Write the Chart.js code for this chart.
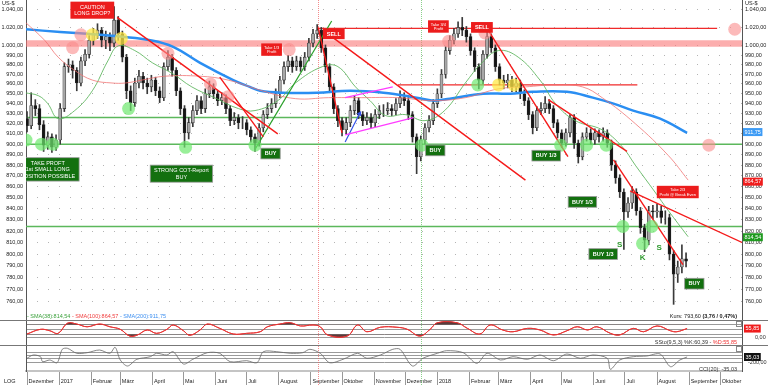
<!DOCTYPE html>
<html>
<head>
<meta charset="utf-8">
<title>Platin in US-$</title>
<script src="https://cdn.jsdelivr.net/npm/chart.js"></script>
<style>
    body { margin: 0; background: #fff; }
    .panel { position: absolute; left: 0; width: 768px; }
    #pricePanel { top: 0; height: 321px; }
    #stochPanel { top: 321px; height: 25px; }
    #cciPanel { top: 346px; height: 39px; }
</style>
</head>
<body>
<div class="panel" id="pricePanel"><canvas id="priceChart"></canvas></div>
<div class="panel" id="stochPanel"><canvas id="stochChart"></canvas></div>
<div class="panel" id="cciPanel"><canvas id="cciChart"></canvas></div>

<script>
// all x values are days counted from 1 Dec 2016, one bar every 4 days
const barStep = 4;
const firstOpen = 925;
const closes = [
    918, 938, 935, 919, 899, 907, 897, 904, 935, 978,
    980, 974, 961, 984, 991, 1006, 1013, 1017, 1006, 1010,
    1003, 1028, 1013, 988, 953, 941, 961, 968, 961, 957,
    964, 953, 946, 978, 988, 974, 953, 935, 911, 921,
    933, 943, 935, 950, 957, 950, 943, 946, 935, 923,
    926, 921, 921, 914, 907, 901, 916, 929, 935, 940,
    950, 964, 978, 984, 978, 984, 978, 988, 1003, 1013,
    1017, 998, 978, 957, 935, 923, 914, 921, 933, 943,
    929, 923, 926, 921, 929, 933, 933, 935, 933, 940,
    946, 943, 929, 907, 888, 904, 916, 923, 940, 950,
    970, 995, 1006, 1013, 1020, 1017, 1010, 995, 978, 964,
    991, 1010, 998, 978, 964, 961, 964, 957, 961, 950,
    943, 929, 916, 933, 935, 940, 935, 921, 911, 901,
    911, 926, 901, 888, 907, 911, 904, 911, 907, 911,
    901, 880, 868, 855, 837, 845, 855, 838, 823, 812,
    838, 837, 838, 832, 832, 800, 783, 789, 796, 794
];
const highs = [
    932, 951, 944, 939, 923, 912, 910, 909, 940, 982,
    986, 984, 977, 988, 996, 1011, 1019, 1024, 1020, 1016,
    1014, 1043, 1032, 1016, 991, 958, 966, 974, 972, 966,
    969, 967, 957, 982, 995, 991, 977, 956, 938, 926,
    938, 948, 947, 955, 963, 960, 953, 951, 949, 938,
    931, 929, 927, 924, 917, 910, 920, 933, 940, 945,
    955, 968, 983, 990, 988, 989, 988, 993, 1008, 1018,
    1023, 1020, 1001, 981, 960, 938, 926, 926, 938, 948,
    946, 932, 931, 930, 934, 938, 939, 941, 939, 945,
    953, 951, 946, 932, 910, 908, 920, 928, 944, 955,
    975, 999, 1011, 1019, 1026, 1031, 1021, 1013, 998, 981,
    995, 1015, 1013, 1001, 981, 969, 970, 968, 966, 964,
    954, 946, 932, 937, 941, 947, 944, 938, 924, 914,
    915, 929, 929, 904, 911, 916, 915, 915, 914, 916,
    914, 904, 884, 871, 858, 850, 860, 858, 841, 826,
    842, 843, 844, 842, 838, 835, 803, 794, 808, 801
];
const lows = [
    912, 915, 928, 914, 893, 895, 892, 894, 900, 932,
    972, 966, 953, 958, 979, 987, 1001, 1008, 999, 997,
    995, 999, 1006, 983, 945, 933, 937, 956, 955, 950,
    952, 948, 941, 943, 974, 968, 948, 929, 897, 905,
    917, 929, 930, 931, 946, 945, 938, 939, 930, 918,
    919, 915, 915, 909, 902, 893, 898, 912, 925, 931,
    936, 946, 960, 973, 972, 974, 973, 974, 984, 999,
    1008, 993, 972, 951, 930, 917, 908, 910, 917, 929,
    925, 918, 919, 916, 917, 925, 927, 929, 928, 929,
    936, 938, 924, 902, 872, 884, 900, 912, 919, 936,
    946, 966, 991, 1002, 1009, 1011, 1004, 990, 973, 955,
    960, 987, 993, 973, 959, 955, 956, 952, 952, 945,
    938, 924, 910, 913, 929, 931, 930, 916, 906, 897,
    898, 907, 896, 882, 885, 903, 900, 900, 902, 903,
    897, 875, 863, 850, 804, 832, 840, 834, 818, 802,
    808, 831, 832, 827, 826, 795, 758, 776, 784, 789
];

const sma38Days = [-2, 11, 20, 30, 46, 63, 78, 88, 104, 121, 140, 159, 181, 204, 220, 242, 259, 285, 300, 317, 331, 346, 365, 384, 403, 423, 439, 455, 474, 495, 510, 529, 555, 574, 587, 606, 619, 638];
const sma38 = [951, 948, 940, 925, 933, 953, 984, 1000, 995, 982, 971, 957, 946, 935, 933, 943, 961, 978, 978, 957, 943, 928, 929, 923, 933, 961, 982, 995, 988, 964, 940, 923, 914, 898, 880, 855, 838, 815];
const sma100Days = [-2, 17, 30, 46, 63, 82, 95, 111, 133, 167, 194, 227, 259, 291, 323, 358, 391, 423, 455, 481, 510, 536, 555, 587, 619, 638];
const sma100 = [1026, 1006, 988, 974, 964, 961, 961, 964, 968, 968, 964, 953, 945, 946, 946, 946, 943, 946, 955, 957, 959, 957, 946, 920, 889, 866];
const sma200Days = [-2, 32, 70, 90, 119, 141, 167, 199, 215, 225, 247, 280, 312, 344, 376, 392, 408, 440, 466, 488, 521, 546, 566, 585, 611, 637];
const sma200 = [1018, 1015, 1012, 1010, 1006, 999, 982, 964, 957, 953, 951, 951, 953, 951, 946, 943, 945, 950, 950, 952, 952, 946, 940, 933, 925, 911];

const stochDays = [0, 13, 22, 30, 39, 48, 58, 70, 80, 90, 99, 106, 116, 125, 135, 141, 151, 157, 167, 174, 186, 199, 212, 225, 232, 244, 254, 264, 276, 283, 290, 309, 319, 328, 341, 357, 367, 379, 389, 396, 415, 425, 437, 447, 459, 469, 483, 495, 508, 521, 531, 541, 550, 563, 572, 585, 595, 608, 621, 627, 637];
const stochD = [22, 51, 42, 26, 89, 84, 67, 84, 67, 51, 9, 14, 47, 26, 51, 78, 42, 14, 47, 84, 57, 22, 26, 36, 67, 84, 92, 72, 78, 67, 16, 9, 78, 36, 64, 64, 51, 9, 51, 92, 92, 57, 22, 78, 47, 36, 57, 47, 16, 42, 67, 47, 67, 26, 16, 57, 36, 72, 42, 36, 56];
const cciDays = [0, 6, 13, 15, 22, 29, 34, 39, 48, 58, 70, 80, 85, 90, 97, 106, 119, 125, 135, 141, 151, 160, 174, 186, 196, 212, 222, 228, 241, 254, 266, 273, 283, 292, 305, 319, 328, 341, 353, 360, 372, 382, 396, 405, 421, 434, 444, 457, 469, 483, 495, 508, 521, 534, 546, 560, 563, 572, 585, 598, 611, 621, 630, 637];
const cci = [-78, 31, -25, -190, -134, -223, 219, 252, 87, 107, 196, 87, 285, -134, -332, -111, -25, 87, 31, 140, -266, -111, 107, 87, -190, -157, -223, 140, 140, 87, 107, 219, 87, -223, -111, 87, -78, 31, 219, 219, -332, -78, 87, 173, 107, -243, 87, -134, -25, -111, 31, -157, 64, -78, 31, -78, -441, -134, -25, -2, 64, -355, -134, -35];

const monthDays = [0, 31, 62, 90, 121, 151, 182, 212, 243, 274, 304, 335, 365, 396, 427, 455, 486, 516, 547, 577, 608, 639, 669];
const monthLabels = ['Dezember', '2017', 'Februar', 'März', 'April', 'Mai', 'Juni', 'Juli', 'August', 'September', 'Oktober', 'November', 'Dezember', '2018', 'Februar', 'März', 'April', 'Mai', 'Juni', 'Juli', 'August', 'September', 'Oktober'];
const priceTicks = [760, 770, 780, 790, 800, 810, 820, 830, 840, 850, 860, 870, 880, 890, 900, 910, 920, 930, 940, 950, 960, 970, 980, 990, 1000, 1020, 1040];

// drawing tools: [fromDay, value, toDay, value]
const redTrends = [[87, 1031, 242, 910], [186, 967, 228, 907], [281, 1020, 304, 911], [294, 1010, 481, 866], [445, 1017, 522, 888], [503, 944, 579, 893], [566, 885, 633, 791], [582, 856, 690, 810]];
const greenTrends = [[220, 895, 294, 1027]];
const magentaTrends = [[307, 946, 353, 957], [307, 909, 373, 926]];
const blueArrow = [307, 902, 321, 930];
// horizontal levels: [fromDay, toDay, value]
const resistanceBand = [-1, 690, 1002.5];
const redLevels = [[281, 666, 1019], [358, 589, 959]];
const greenLevels = [[-1, 341, 926], [-1, 690, 900], [-1, 690, 824]];
const eventDays = [281, 380];

const greenDots = [[-1, 904], [14, 900], [25, 900], [98, 935], [153, 897], [220, 899], [381, 899], [435, 959], [515, 899], [540, 899], [559, 899], [575, 824], [594, 809], [603, 824]];
const yellowDots = [[63, 1012], [91, 1008], [455, 959], [470, 959]];
const pinkDots = [[44, 998], [52, 1012], [136, 992], [177, 960], [194, 947], [253, 996], [407, 1005], [442, 1014], [683, 1018], [658, 899]];

const redNotes = [[63, 1039, 'CAUTION\nLONG DROP?'], [236, 996, 'Take 1/3\nProfit'], [296, 1013, 'SELL'], [397, 1021, 'Take 3/4\nProfit'], [439, 1020, 'SELL'], [628, 855, 'Take 2/3\nProfit @ Break Even']];
const greenNotes = [[20, 876, 'TAKE PROFT\n1st SMALL LONG\nPOSITION POSSIBLE'], [149, 872, 'STRONG COT-Report\nBUY'], [235, 891, 'BUY'], [394, 894, 'BUY'], [501, 889, 'BUY 1/3'], [536, 846, 'BUY 1/3'], [556, 800, 'BUY 1/3'], [644, 775, 'BUY']];
const patternMarks = [[572, 808, 'S'], [594, 797, 'K'], [610, 805, 'S']];

const lastValues = { sma38: 814.54, sma100: 864.57, sma200: 911.75, kurs: 793.60, change: 3.76, pct: 0.47, stochK: 60.39, stochD: 55.85, cci: -35.03 };

// ---- helpers ----
const FONT = '"Liberation Sans", Arial, sans-serif';
const dayMin = -1, dayMax = 690;
const priceMin = 744.6, priceMax = 1050.4;

function deNum(v) {
    const parts = Math.abs(v).toFixed(2).split('.');
    return (v < 0 ? '-' : '') + parts[0].replace(/\B(?=(\d{3})+(?!\d))/g, '.') + ',' + parts[1];
}

function sideWidth(s) { s.width = 26; s.paddingTop = 0; s.paddingBottom = 0; }

function pts(days, vals) { return days.map((d, i) => ({ x: d, y: vals[i] })); }

function segment(seg, color, width, order) {
    return { type: 'line', data: [{ x: seg[0], y: seg[1] }, { x: seg[2], y: seg[3] }], borderColor: color, borderWidth: width, pointRadius: 0, order: order };
}

function level(lv, color, width, order) {
    return { type: 'line', data: [{ x: lv[0], y: lv[2] }, { x: lv[1], y: lv[2] }], borderColor: color, borderWidth: width, pointRadius: 0, order: order };
}

function dots(list, color, r) {
    return { type: 'scatter', data: list.map(p => ({ x: p[0], y: p[1] })), pointRadius: r, pointBackgroundColor: color, pointBorderWidth: 0, order: 5 };
}

function drawNote(ctx, x, y, text, bg, size, bold, border) {
    const lines = text.split('\n');
    ctx.font = (bold ? 'bold ' : '') + size + 'px ' + FONT;
    const lh = size * 1.15;
    const w = Math.max(...lines.map(l => ctx.measureText(l).width)) + size * 1.4;
    const h = lines.length * lh + size * 0.8;
    ctx.fillStyle = bg;
    ctx.fillRect(x - w / 2, y - h / 2, w, h);
    if (border) {
        ctx.strokeStyle = border;
        ctx.lineWidth = 0.8;
        ctx.strokeRect(x - w / 2, y - h / 2, w, h);
    }
    ctx.fillStyle = '#fff';
    ctx.textAlign = 'center';
    ctx.textBaseline = 'middle';
    lines.forEach((l, i) => ctx.fillText(l, x, y - (lines.length - 1) * lh / 2 + i * lh + 0.3));
}

function valueBox(ctx, x, y, text, bg, fg) {
    ctx.font = '5.5px ' + FONT;
    const w = ctx.measureText(text).width + 3;
    ctx.fillStyle = bg;
    ctx.fillRect(x, y - 4, w, 8);
    ctx.fillStyle = fg;
    ctx.textAlign = 'left';
    ctx.textBaseline = 'middle';
    ctx.fillText(text, x + 1.5, y + 0.3);
}

const eventLines = {
    id: 'eventLines',
    beforeDatasetsDraw(chart) {
        const { ctx, chartArea: ca, scales: { x } } = chart;
        ctx.save();
        ctx.lineWidth = 1;
        ctx.setLineDash([1, 1]);
        eventDays.forEach((d, i) => {
            const px = Math.round(x.getPixelForValue(d)) + 0.5;
            ctx.strokeStyle = i === 0 ? 'rgba(240,90,90,0.7)' : 'rgba(90,190,90,0.7)';
            ctx.beginPath();
            ctx.moveTo(px, ca.top);
            ctx.lineTo(px, chart.height);
            ctx.stroke();
        });
        ctx.restore();
    }
};

const baseOptions = {
    responsive: true,
    maintainAspectRatio: false,
    animation: false,
    layout: { padding: 0, autoPadding: false },
    plugins: { legend: { display: false }, tooltip: { enabled: false } }
};

// ---- price panel ----
const opens = closes.map((c, i) => i ? closes[i - 1] : firstOpen);
const wicks = closes.map((c, i) => ({ x: i * barStep, y: [lows[i], highs[i]] }));
const bodies = closes.map((c, i) => ({ x: i * barStep, y: [opens[i], c] }));

const priceSets = [
    level(resistanceBand, 'rgba(250,120,120,0.6)', 6.5, 14),
    ...greenLevels.map(l => level(l, '#5cb85c', 1.5, 13)),
    ...redLevels.map(l => level(l, '#f02a2a', 1.2, 13)),
    { type: 'bar', data: wicks, backgroundColor: '#3a3a3a', barThickness: 1, grouped: false, order: 11 },
    { type: 'bar', data: bodies, backgroundColor: bodies.map(b => b.y[1] >= b.y[0] ? '#a8a8a8' : '#151515'), borderColor: '#2a2a2a', borderWidth: 0.6, borderSkipped: false, barThickness: 3, grouped: false, order: 10 },
    { type: 'line', data: pts(sma100Days, sma100), borderColor: 'rgba(240,110,110,0.75)', borderWidth: 1, pointRadius: 0, tension: 0.4, order: 8 },
    { type: 'line', data: pts(sma38Days, sma38), borderColor: 'rgba(90,180,90,0.85)', borderWidth: 1, pointRadius: 0, tension: 0.4, order: 8 },
    { type: 'line', data: pts(sma200Days, sma200), borderColor: '#2a8ef2', borderWidth: 2.5, pointRadius: 0, tension: 0.4, order: 8 },
    ...redTrends.map(t => segment(t, '#f51a1a', 1.4, 6)),
    ...greenTrends.map(t => segment(t, '#2aa02a', 1.2, 6)),
    ...magentaTrends.map(t => segment(t, '#ff3cff', 1.4, 6)),
    { type: 'line', data: [{ x: blueArrow[0], y: blueArrow[1] }, { x: blueArrow[2], y: blueArrow[3] }], borderColor: '#3552e8', borderWidth: 1.2, pointRadius: [0, 3], pointStyle: 'triangle', rotation: 29, pointBackgroundColor: '#3552e8', pointBorderWidth: 0, order: 6 },
    dots(greenDots, 'rgba(110,232,110,0.7)', 6.5),
    dots(yellowDots, 'rgba(255,232,70,0.75)', 6.5),
    dots(pinkDots, 'rgba(250,140,140,0.6)', 6.5)
];

const priceDecor = {
    id: 'priceDecor',
    afterDatasetsDraw(chart) {
        const { ctx, chartArea: ca, scales: { x, y } } = chart;
        ctx.save();
        ctx.beginPath();
        ctx.rect(ca.left, ca.top, ca.width, ca.height);
        ctx.clip();
        redNotes.forEach(([d, v, t]) => {
            const small = t.startsWith('Take');
            drawNote(ctx, x.getPixelForValue(d), y.getPixelForValue(v), t, '#ec1c1c', small ? 4 : 5.5, t === 'SELL', null);
        });
        greenNotes.forEach(([d, v, t]) => {
            drawNote(ctx, x.getPixelForValue(d), y.getPixelForValue(v), t, '#13700f', 5.5, t.startsWith('BUY'), '#9a9a9a');
        });
        ctx.font = 'bold 8px ' + FONT;
        ctx.fillStyle = '#2f9a2f';
        ctx.textAlign = 'center';
        ctx.textBaseline = 'middle';
        patternMarks.forEach(([d, v, t]) => ctx.fillText(t, x.getPixelForValue(d), y.getPixelForValue(v)));

        // legend line at the bottom of the panel
        ctx.font = '5.5px ' + FONT;
        ctx.textAlign = 'left';
        let tx = ca.left + 1;
        [['- SMA(38):' + deNum(lastValues.sma38), '#3aa03a'], [' - SMA(100):' + deNum(lastValues.sma100), '#f03c3c'], [' - SMA(200):' + deNum(lastValues.sma200), '#3d8ff0']].forEach(([t, c]) => {
            ctx.fillStyle = c;
            ctx.fillText(t, tx, ca.bottom - 5);
            tx += ctx.measureText(t).width;
        });
        const bold = '(' + deNum(lastValues.change) + ' / ' + deNum(lastValues.pct) + '%)';
        ctx.font = 'bold 5.5px ' + FONT;
        const bw = ctx.measureText(bold).width;
        ctx.textAlign = 'right';
        ctx.fillStyle = '#222';
        ctx.fillText(bold, ca.right - 5, ca.bottom - 5);
        ctx.font = '5.5px ' + FONT;
        ctx.fillText('Kurs: ' + deNum(lastValues.kurs) + ' ', ca.right - 5 - bw, ca.bottom - 5);
        ctx.restore();

        ctx.save();
        valueBox(ctx, ca.right + 1, y.getPixelForValue(lastValues.sma200), deNum(lastValues.sma200), '#3d9bf5', '#fff');
        valueBox(ctx, ca.right + 1, y.getPixelForValue(lastValues.sma100), deNum(lastValues.sma100), '#f01c1c', '#fff');
        valueBox(ctx, ca.right + 1, y.getPixelForValue(lastValues.sma38), deNum(lastValues.sma38), '#1f9a1f', '#fff');
        ctx.font = '5.5px ' + FONT;
        ctx.fillStyle = '#222';
        ctx.textBaseline = 'top';
        ctx.textAlign = 'left';
        ctx.fillText('US-$', 2, 1);
        ctx.fillText('US-$', ca.right + 3, 1);
        ctx.strokeStyle = '#777';
        ctx.lineWidth = 1;
        ctx.beginPath();
        ctx.moveTo(0, chart.height - 0.5);
        ctx.lineTo(chart.width, chart.height - 0.5);
        ctx.stroke();
        ctx.restore();
    }
};

const priceAxis = {
    type: 'logarithmic', min: priceMin, max: priceMax,
    afterBuildTicks: s => { s.ticks = priceTicks.map(v => ({ value: v })); },
    afterFit: sideWidth,
    ticks: { autoSkip: false, padding: 3, color: '#222', font: { family: FONT, size: 5.5 }, callback: v => deNum(v) }
};

new Chart(document.getElementById('priceChart'), {
    type: 'line',
    data: { datasets: priceSets },
    options: Object.assign({}, baseOptions, {
        scales: {
            x: { type: 'linear', min: dayMin, max: dayMax, display: false, offset: false },
            y: Object.assign({}, priceAxis, { position: 'right', grid: { color: '#b4b4b4', drawTicks: false }, border: { color: '#555', dash: [1, 10] } }),
            yL: Object.assign({}, priceAxis, { position: 'left', grid: { drawOnChartArea: false, drawTicks: false }, border: { color: '#555' } })
        }
    }),
    plugins: [eventLines, priceDecor]
});

// ---- indicator panels ----
function sideAxis(pos, min, max, lines) {
    return {
        position: pos, min: min, max: max,
        afterBuildTicks: s => { s.ticks = lines.map(v => ({ value: v })); },
        afterFit: sideWidth,
        ticks: { display: false },
        grid: { display: pos === 'left', color: '#9a9a9a', drawTicks: false },
        border: { color: '#555' }
    };
}

const stochDecor = {
    id: 'stochDecor',
    afterDraw(chart) {
        const { ctx, chartArea: ca, scales: { y } } = chart;
        ctx.save();
        valueBox(ctx, ca.right + 2, y.getPixelForValue(lastValues.stochD), deNum(lastValues.stochD), '#f01c1c', '#fff');
        ctx.font = '5.5px ' + FONT;
        ctx.fillStyle = '#333';
        ctx.textAlign = 'left';
        ctx.textBaseline = 'middle';
        ctx.fillText('0,00', ca.right + 13, y.getPixelForValue(0));
        const dPart = '%D:' + deNum(lastValues.stochD);
        const dw = ctx.measureText(dPart).width;
        ctx.textAlign = 'right';
        ctx.fillStyle = '#f03030';
        ctx.fillText(dPart, ca.right - 5, ca.bottom - 3.5);
        ctx.fillStyle = '#333';
        ctx.fillText('SSto(9,5,3) %K:' + deNum(lastValues.stochK) + ' - ', ca.right - 5 - dw, ca.bottom - 3.5);
        ctx.strokeStyle = '#777';
        ctx.beginPath();
        ctx.moveTo(0, chart.height - 0.5);
        ctx.lineTo(chart.width, chart.height - 0.5);
        ctx.stroke();
        ctx.strokeStyle = '#888';
        ctx.strokeRect(ca.right - 5.5, ca.top + 0.5, 5, 5);
        ctx.restore();
    }
};

new Chart(document.getElementById('stochChart'), {
    type: 'line',
    data: {
        datasets: [
            { data: pts(stochDays, stochD), borderColor: '#e83535', borderWidth: 1, pointRadius: 0, tension: 0.4, fill: { target: { value: 80 }, above: 'rgba(60,25,25,0.85)', below: 'rgba(0,0,0,0)' } },
            { data: pts(stochDays, stochD), borderColor: '#e83535', borderWidth: 1, pointRadius: 0, tension: 0.4, fill: { target: { value: 20 }, above: 'rgba(0,0,0,0)', below: 'rgba(60,25,25,0.85)' } }
        ]
    },
    options: Object.assign({}, baseOptions, {
        scales: {
            x: { type: 'linear', min: dayMin, max: dayMax, display: false },
            y: sideAxis('left', -53, 103, [0, 20, 50, 80]),
            yR: sideAxis('right', -53, 103, [])
        }
    }),
    plugins: [eventLines, stochDecor]
});

const cciDecor = {
    id: 'cciDecor',
    afterDraw(chart) {
        const { ctx, chartArea: ca, scales: { y } } = chart;
        ctx.save();
        valueBox(ctx, ca.right + 2, y.getPixelForValue(lastValues.cci), deNum(Math.abs(lastValues.cci)), '#111', '#fff');
        ctx.font = '5.5px ' + FONT;
        ctx.fillStyle = '#333';
        ctx.textAlign = 'left';
        ctx.textBaseline = 'middle';
        ctx.fillText(deNum(-200), ca.right + 6, y.getPixelForValue(-200));
        ctx.textAlign = 'right';
        ctx.fillText('CCI(20): ' + deNum(lastValues.cci), ca.right - 5, ca.bottom - 2);
        ctx.textAlign = 'left';
        ctx.fillStyle = '#222';
        ctx.fillText('LOG', 4, chart.height - 4);
        ctx.strokeStyle = '#888';
        ctx.strokeRect(ca.right - 5.5, ca.top + 0.5, 5, 5);
        ctx.restore();
    }
};

new Chart(document.getElementById('cciChart'), {
    type: 'line',
    data: {
        datasets: [
            { data: pts(cciDays, cci), borderColor: '#666', borderWidth: 0.8, pointRadius: 0, tension: 0.3 }
        ]
    },
    options: Object.assign({}, baseOptions, {
        scales: {
            x: {
                type: 'linear', min: dayMin, max: dayMax, position: 'bottom',
                afterBuildTicks: s => { s.ticks = monthDays.map(v => ({ value: v })); },
                afterFit: s => { s.height = 14; s.paddingLeft = 0; s.paddingRight = 0; },
                ticks: { autoSkip: false, maxRotation: 0, align: 'start', padding: -7, color: '#222', font: { family: FONT, size: 5.5 }, callback: (v, i) => ' ' + monthLabels[i] },
                grid: { drawOnChartArea: false, tickLength: 14, color: '#999' },
                border: { color: '#c4c4c4', width: 2 }
            },
            y: sideAxis('left', -497, 328, [-200, -100, 0, 100]),
            yR: sideAxis('right', -497, 328, [])
        }
    }),
    plugins: [eventLines, cciDecor]
});
</script>
</body>
</html>
